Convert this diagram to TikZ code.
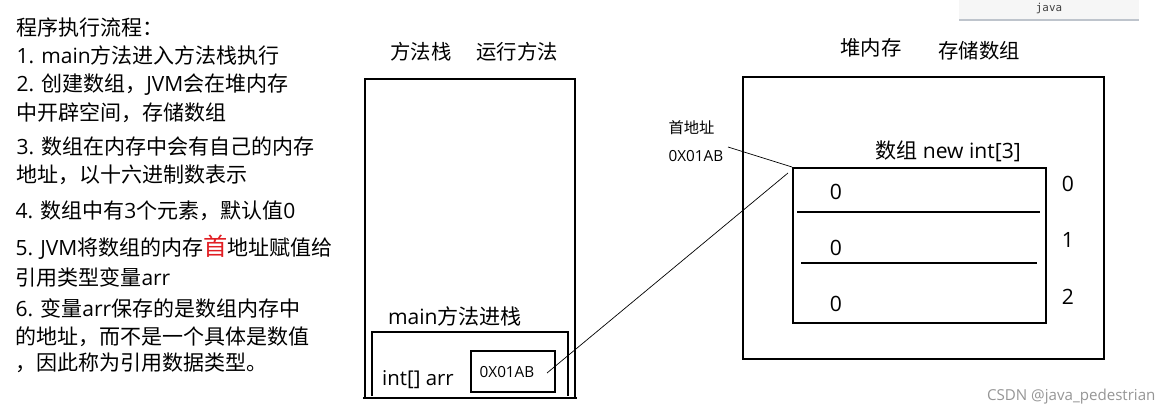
\documentclass[tikz,border=0pt]{standalone}
\usepackage{fontspec}
\setmainfont{Noto Sans CJK SC}
\setmonofont{DejaVu Sans Mono}
\newfontfamily\latfont{Open Sans}
\newcommand\en[1]{{\latfont #1}}
\usetikzlibrary{positioning}
\definecolor{stepred}{RGB}{225,30,35}
\definecolor{wmgray}{RGB}{150,150,150}
\definecolor{tabgray}{RGB}{246,246,246}
\definecolor{tabline}{RGB}{190,196,204}

\begin{document}
\begin{tikzpicture}[x=0.02cm, y=-0.02cm, line width=0.6pt,
  every node/.style={inner sep=0pt},
  steptxt/.style={anchor=west, font=\fontsize{11.95pt}{12pt}\selectfont},
  title/.style={font=\fontsize{11.6pt}{12pt}\selectfont},
  cell/.style={font=\fontsize{12pt}{12pt}\selectfont},
  small/.style={font=\fontsize{8.7pt}{10pt}\selectfont},
  pointer/.style={line width=0.4pt}]
\useasboundingbox (0,0) rectangle (1171,419);
\fill[white] (0,0) rectangle (1171,419);

% Steps on the left
\node[steptxt] (s0) at (16,28) {程序执行流程：};
\node[steptxt] (s1) at (16,55) {\en{1. main}方法进入方法栈执行};
\node[steptxt] (s2) at (16,85) {\en{2. }创建数组，\en{JVM}会在堆内存};
\node[steptxt] (s2b) at (16,113) {中开辟空间，存储数组};
\node[steptxt] (s3) at (16,147) {\en{3. }数组在内存中会有自己的内存};
\node[steptxt] (s3b) at (16,175) {地址，以十六进制数表示};
\node[steptxt] (s4) at (15,211) {\en{4. }数组中有\en{3}个元素，默认值\en{0}};
\node[steptxt] (s5) at (15,247) {\en{5. JVM}将数组的内存\textcolor{stepred}{\fontsize{13.8pt}{12pt}\selectfont 首}地址赋值给};
\node[steptxt] (s5b) at (15,277) {引用类型变量\en{arr}};
\node[steptxt] (s6) at (15,308) {\en{6. }变量\en{arr}保存的是数组内存中};
\node[steptxt] (s6b) at (15,337) {的地址，而不是一个具体是数值};
\node[steptxt] (s6c) at (15,363) {，因此称为引用数据类型。};

% Method stack
\node[title] (stk1) at (421,52) {方法栈};
\node[title] (stk2) at (517,52) {运行方法};
\draw (365,398) -- (365,79) -- (575,79) -- (575,398);
\draw (363,398) -- (577,398);
\node[cell] (frame) at (455,316) {\en{main}方法进栈};
\draw (372,396) -- (372,332) -- (568,332) -- (568,396);
\node[title] (var) at (418,380) {\en{int[] arr}};
\draw (471,351) rectangle (555,392);
\node[small] (addr) at (507,372) {\en{0X01AB}};
\coordinate (ptr) at (547,373);

% Heap
\node[title] (hp1) at (871,48) {堆内存};
\node[title] (hp2) at (979,51) {存储数组};
\draw (743,77) rectangle (1104,359);
\node[cell] (arr) at (948,151) {数组\en{ new int[3]}};
\draw (793,168) rectangle (1046,323);
\draw (797,212) -- (1040,212);
\draw (801,263) -- (1037,263);
\node[cell] (v0) at (836,192) {\en{0}};
\node[cell] (v1) at (836,248) {\en{0}};
\node[cell] (v2) at (836,304) {\en{0}};
\node[cell] (i0) at (1068,184) {\en{0}};
\node[cell] (i1) at (1068,240) {\en{1}};
\node[cell] (i2) at (1068,297) {\en{2}};
\coordinate (arrtl) at (792,167);
\coordinate (arrin) at (788,173);

% First address label
\node[small, anchor=west] (first) at (668,128) {首地址};
\node[small, anchor=west] (firstaddr) at (668,156) {\en{0X01AB}};
\coordinate (lblend) at (728,147);
\draw[pointer] (lblend) -- (arrtl);
\draw[pointer] (ptr) -- (arrin);

% Code tab and watermark
\fill[tabgray] (959,0) rectangle (1139,20);
\draw[tabline, line width=0.8pt] (959,20) -- (1139,20);
\node[font=\ttfamily\fontsize{6.2pt}{7pt}\selectfont, text=black!75] (tab) at (1049,8) {java};
\node[anchor=east, font=\latfont\fontsize{8.6pt}{10pt}\selectfont, text=wmgray] (wm) at (1156,397) {CSDN @java\_pedestrian};
\end{tikzpicture}
\end{document}
